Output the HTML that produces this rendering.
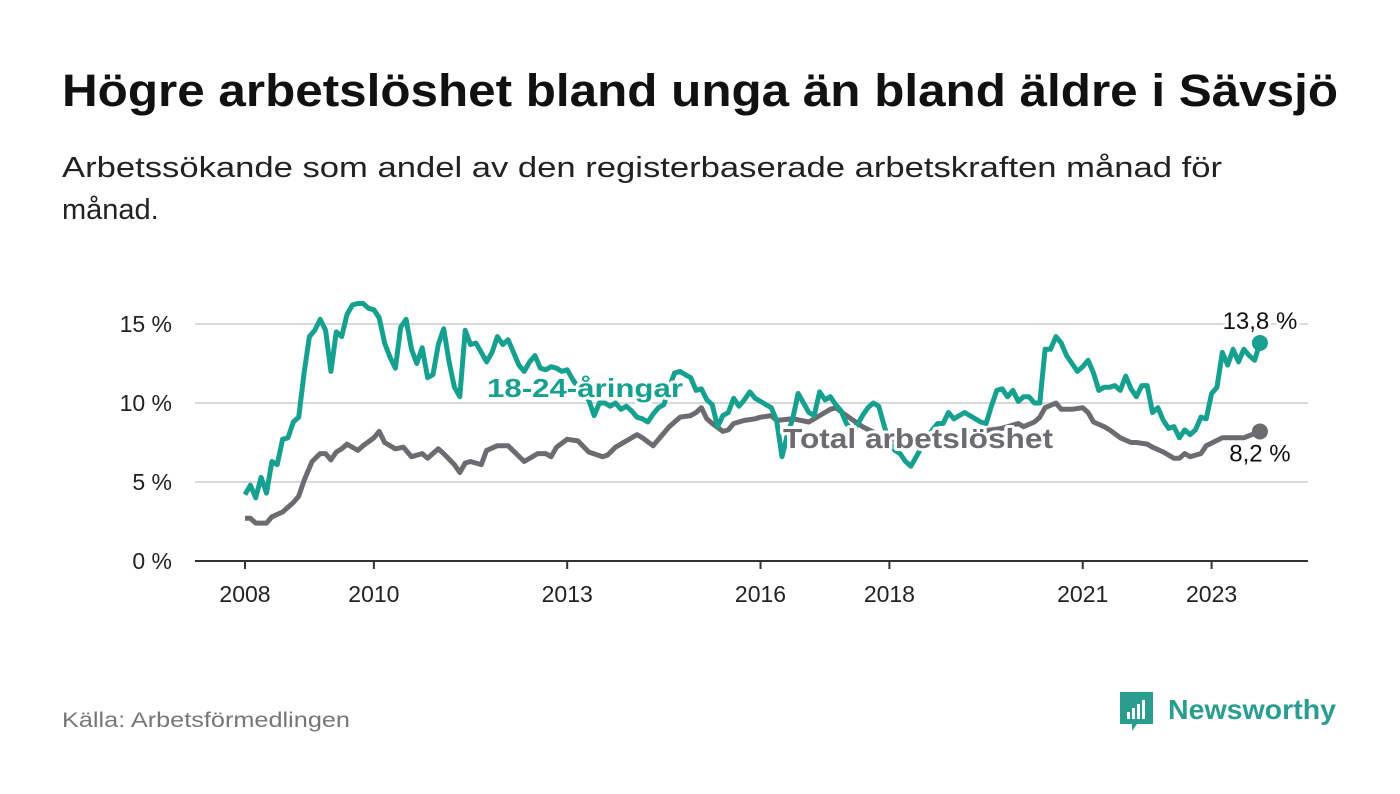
<!DOCTYPE html>
<html><head><meta charset="utf-8"><style>
html,body{margin:0;padding:0;background:#fff;}
svg{display:block;font-family:"Liberation Sans",sans-serif;}
</style></head><body>
<svg id="chart" width="1400" height="794" viewBox="0 0 1400 794">
<text x="62" y="106" font-size="45" font-weight="bold" fill="#111" textLength="1276" lengthAdjust="spacingAndGlyphs">Högre arbetslöshet bland unga än bland äldre i Sävsjö</text>
<text x="62" y="177" font-size="29" fill="#222" textLength="1160" lengthAdjust="spacingAndGlyphs">Arbetssökande som andel av den registerbaserade arbetskraften månad för</text>
<text x="62" y="219" font-size="29" fill="#222">månad.</text>
<g id="grid"></g>
<g id="series"></g>
<g id="labels"></g>
<text x="62" y="727" font-size="21" fill="#777" textLength="288" lengthAdjust="spacingAndGlyphs">Källa: Arbetsförmedlingen</text>
<g>
<path d="M1120 692 h33 v32 h-16 l-5 7 v-7 h-12 z" fill="#2a9d8f"/>
<rect x="1127" y="712" width="3" height="7" fill="#fff"/>
<rect x="1132" y="708" width="3" height="11" fill="#fff"/>
<rect x="1137" y="704" width="3" height="15" fill="#fff"/>
<rect x="1142" y="700" width="3" height="19" fill="#fff"/>
<text x="1168" y="719" font-size="28" font-weight="bold" fill="#2a9d8f" textLength="168" lengthAdjust="spacingAndGlyphs">Newsworthy</text>
</g>
</svg>
<script>
const yTicks = [0, 5, 10, 15];
const yTickLabels = ["0 %", "5 %", "10 %", "15 %"];
const xTicks = [2008, 2010, 2013, 2016, 2018, 2021, 2023];
const youthStartYear = 2008;
const youthValues = [4.2,4.8,4.0,5.3,4.3,6.3,6.1,7.7,7.8,8.8,9.1,11.9,14.2,14.6,15.3,14.6,12.0,14.5,14.2,15.6,
16.2,16.3,16.3,16.0,15.9,15.4,13.8,12.9,12.2,14.8,15.3,13.4,12.5,13.5,11.6,11.8,13.7,14.7,12.6,11.0,
10.4,14.6,13.7,13.8,13.2,12.6,13.2,14.2,13.7,14.0,13.2,12.4,12.0,12.6,13.0,12.2,12.1,12.3,12.2,12.0,
12.1,11.5,11.0,10.5,10.2,9.2,10.0,10.0,9.8,10.0,9.6,9.8,9.5,9.1,9.0,8.8,9.3,9.7,9.9,11.0,
11.9,12.0,11.8,11.6,10.8,10.9,10.2,9.9,8.5,9.2,9.4,10.3,9.8,10.2,10.7,10.3,10.1,9.9,9.7,8.9,
6.6,8.0,9.0,10.6,10.0,9.4,9.2,10.7,10.2,10.4,9.9,9.5,8.7,8.3,8.6,9.2,9.7,10.0,9.8,8.6,
7.5,7.0,6.8,6.3,6.0,6.6,7.2,7.8,8.3,8.7,8.7,9.4,9.0,9.2,9.4,9.2,9.0,8.8,8.7,9.8,
10.8,10.9,10.4,10.8,10.1,10.4,10.4,10.0,10.0,13.4,13.4,14.2,13.8,13.0,12.5,12.0,12.3,12.7,11.9,10.8,
11.0,11.0,11.1,10.8,11.7,10.9,10.4,11.1,11.1,9.4,9.7,8.9,8.4,8.5,7.8,8.3,8.0,8.3,9.1,9.0,
10.6,11.0,13.2,12.4,13.4,12.6,13.4,13.0,12.7,13.8];
const totalMonths = [0,1,2,4,5,7,8,9,10,11,12.5,14,15,16,17,18,19,21,22,24,25,26,28,29.5,31,33,34,36,37,39,40,41,42,44,45,47,49,52,54.5,56,57,58,60,62,64,66.6,67.5,69,73,74,76,78,79,81,83,84,85,86,87,89,90,91,93,95,96,98,99,102,105,107,109,110,112,115,118,122,126,130,133,137,141,144,145,147,148,149,151,152,154,156,157,158,160,161,163,165,166,168,169,171,173,174,175,176,178,179,182,186,189];
const totalValues = [2.7,2.7,2.4,2.4,2.8,3.1,3.4,3.7,4.1,5.1,6.3,6.8,6.8,6.4,6.9,7.1,7.4,7.0,7.3,7.8,8.2,7.5,7.1,7.2,6.6,6.8,6.5,7.1,6.8,6.1,5.6,6.2,6.3,6.1,7.0,7.3,7.3,6.3,6.8,6.8,6.6,7.2,7.7,7.6,6.9,6.6,6.7,7.2,8.0,7.8,7.3,8.1,8.5,9.1,9.2,9.4,9.7,9.0,8.7,8.2,8.3,8.7,8.9,9.0,9.1,9.2,8.9,9.0,8.8,9.2,9.6,9.7,9.2,8.5,8.0,7.5,7.3,7.6,8.0,8.2,8.4,8.7,8.5,8.8,9.1,9.7,10.0,9.6,9.6,9.7,9.4,8.8,8.5,8.3,7.8,7.5,7.5,7.4,7.2,6.9,6.5,6.5,6.8,6.6,6.8,7.3,7.8,7.8,8.2];
const youthLast = "13,8 %";
const totalLast = "8,2 %";

const NS = "http://www.w3.org/2000/svg";
const X0 = 245, PX_PER_YEAR = 64.44, Y0 = 561, PX_PER_PCT = 15.8;
const xScale = yr => X0 + (yr - 2008) * PX_PER_YEAR;
const yScale = v => Y0 - v * PX_PER_PCT;
function mk(tag, attrs, parent){ const e=document.createElementNS(NS,tag); for(const k in attrs) e.setAttribute(k,attrs[k]); parent.appendChild(e); return e; }
const grid=document.getElementById('grid'), series=document.getElementById('series'), labels=document.getElementById('labels');

yTicks.forEach((t,i)=>{
  if(t>0){ const l=mk('line',{x1:195,x2:1308,y1:yScale(t),y2:yScale(t),stroke:'#d9d9d9','stroke-width':2},grid);
    
     }
  const tx=mk('text',{x:172,y:yScale(t)+8,'font-size':23,fill:'#222','text-anchor':'end'},grid);
  tx.textContent=yTickLabels[i];
  
  
});
const base=mk('line',{x1:195,x2:1308,y1:Y0,y2:Y0,stroke:'#333','stroke-width':2},grid);


xTicks.forEach(t=>{
  const tk=mk('line',{x1:xScale(t),x2:xScale(t),y1:Y0,y2:Y0+8,stroke:'#333','stroke-width':2},grid);
  
  
  const tx=mk('text',{x:xScale(t),y:602,'font-size':23,fill:'#222','text-anchor':'middle'},grid);
  tx.textContent=t;
  
  
});

const totalPts = totalMonths.map((m,i)=>[xScale(2008+m/12), yScale(totalValues[i])]);
const youthPts = youthValues.map((v,i)=>[xScale(youthStartYear+i/12), yScale(v)]);
const toD = pts => pts.map((p,i)=>(i?'L':'M')+p[0].toFixed(1)+' '+p[1].toFixed(1)).join(' ');

const tl=mk('path',{d:toD(totalPts),fill:'none',stroke:'#6d6a70','stroke-width':5,'stroke-linejoin':'round'},series);


const yl=mk('path',{d:toD(youthPts),fill:'none',stroke:'#16a08f','stroke-width':5,'stroke-linejoin':'round'},series);



const tEnd=totalPts[totalPts.length-1], yEnd=youthPts[youthPts.length-1];
const td=mk('circle',{cx:tEnd[0],cy:tEnd[1],r:8,fill:'#6d6a70'},series);


const yd=mk('circle',{cx:yEnd[0],cy:yEnd[1],r:8,fill:'#16a08f'},series);



function lab(x,y,size,weight,fill,anchor){
  return mk('text',{x:x,y:y,'font-size':size,'font-weight':weight,fill:fill,'text-anchor':anchor,stroke:'#fff','stroke-width':6,'paint-order':'stroke','stroke-linejoin':'round'},labels);
}
const l1=lab(487,397,26,'bold','#16a08f','start'); l1.textContent='18-24-åringar';
l1.setAttribute('textLength','196');
l1.setAttribute('lengthAdjust','spacingAndGlyphs');


const l2=lab(783,448,28,'bold','#6d6a70','start'); l2.textContent='Total arbetslöshet';
l2.setAttribute('textLength','270');
l2.setAttribute('lengthAdjust','spacingAndGlyphs');


const l3=lab(yEnd[0],yEnd[1]-14,24,'normal','#111','middle'); l3.textContent=youthLast;


const l4=lab(tEnd[0],tEnd[1]+30,24,'normal','#111','middle'); l4.textContent=totalLast;


</script>
</body></html>
